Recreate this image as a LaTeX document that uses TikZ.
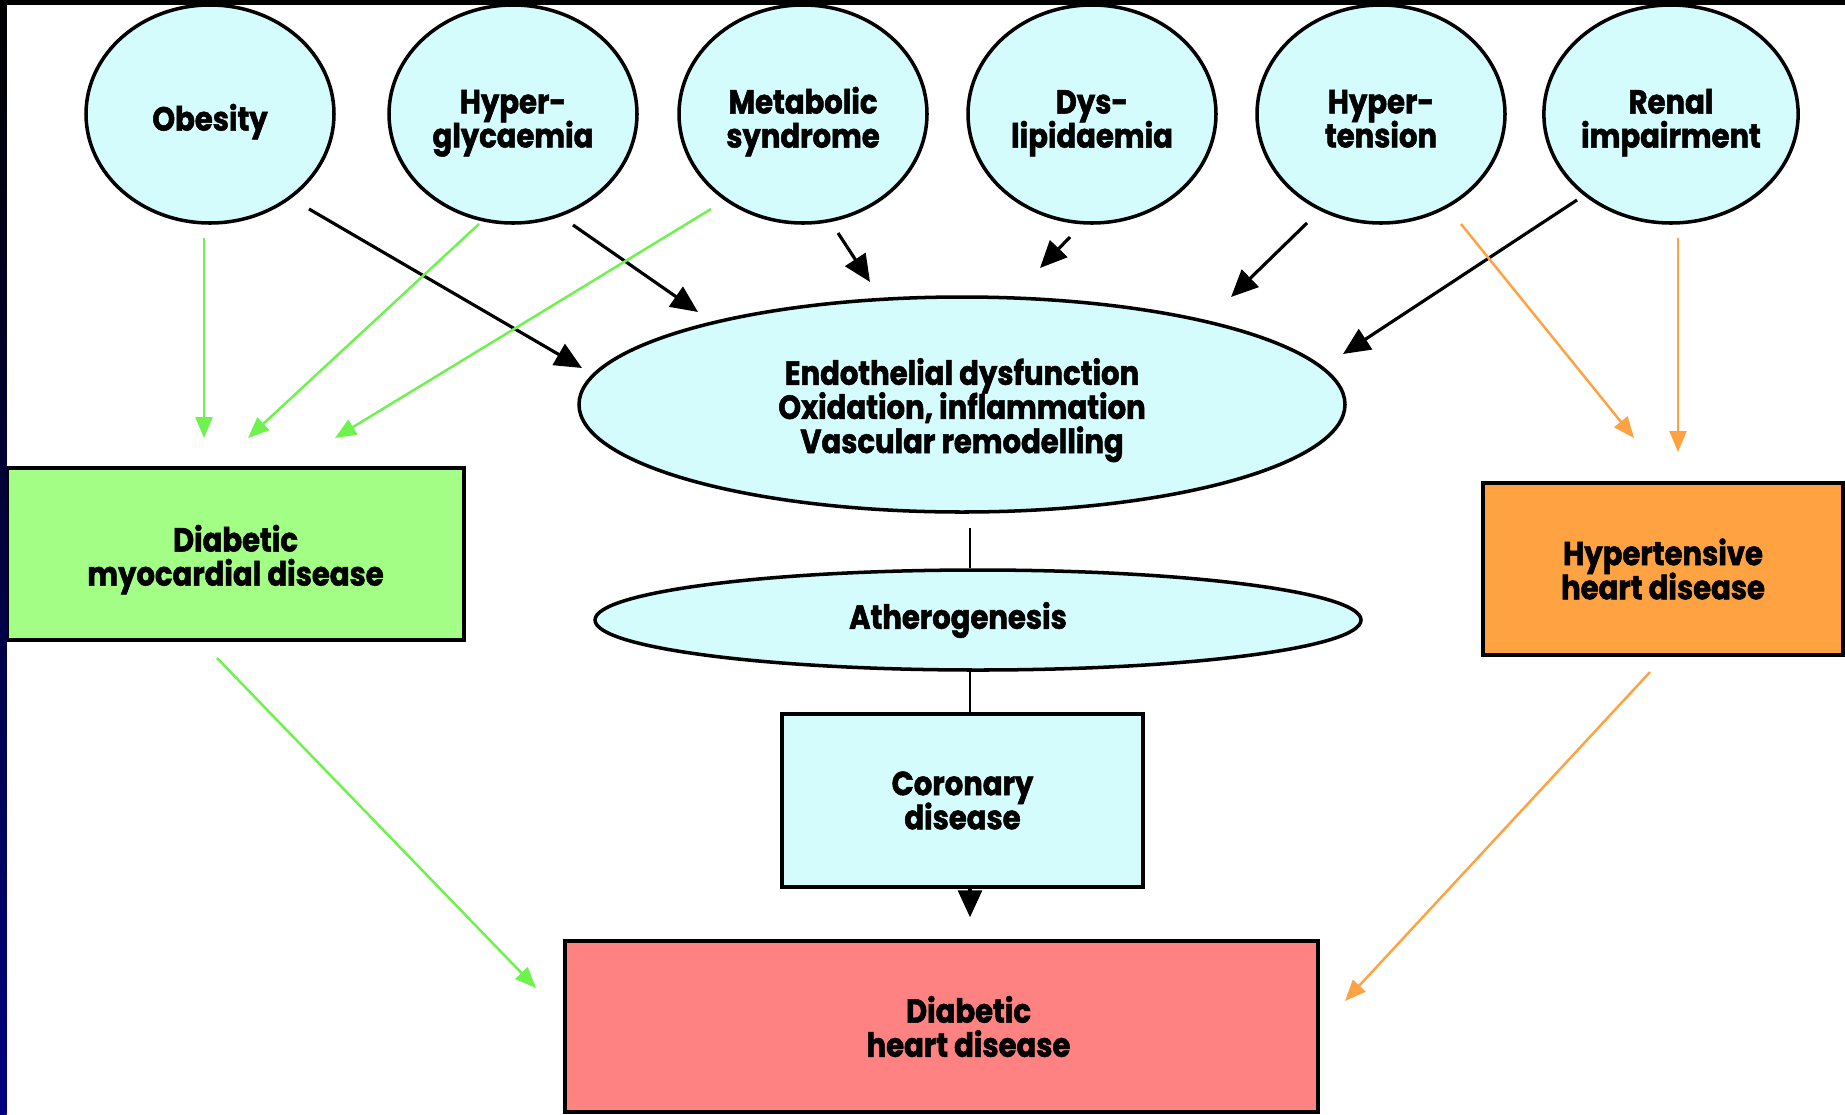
\documentclass[tikz,border=0pt]{standalone}
\usepackage{fontspec}
\setmainfont{Poppins}[FakeStretch=0.87, BoldFeatures={FakeBold=1.5}]
\usetikzlibrary{arrows.meta, shapes.geometric}
\definecolor{paleblue}{HTML}{D4FCFC}
\definecolor{myogreen}{HTML}{A2FE84}
\definecolor{arrowgreen}{HTML}{6EF24E}
\definecolor{hyporange}{HTML}{FFA242}
\definecolor{heartpink}{HTML}{FF8282}
\definecolor{stripnavy}{HTML}{000080}
\setlength{\lineskiplimit}{-5pt}

\begin{document}
\begin{tikzpicture}[font=\bfseries\fontsize{9.5}{9.7}\selectfont,
  risk/.style={ellipse, draw, line width=1pt, fill=paleblue, minimum width=2.48cm, minimum height=2.18cm, inner sep=0pt, align=center},
  oval/.style={ellipse, draw, line width=1pt, fill=paleblue, inner sep=0pt, align=center},
  box/.style={rectangle, draw, line width=1pt, inner sep=0pt, align=center},
  heavy/.style={line width=0.9pt, -{Triangle[length=0.27cm, width=0.24cm]}},
  greenline/.style={arrowgreen, line width=0.7pt, -{Triangle[length=0.21cm, width=0.17cm]}},
  orangeline/.style={hyporange, line width=0.7pt, -{Triangle[length=0.21cm, width=0.17cm]}},
  link/.style={line width=0.8pt}]
  \useasboundingbox (0,0) rectangle (18.45,-11.14);
  \fill[white] (0,0) rectangle (18.45,-11.14);

  % Row of risk factors
  \node[risk] (obesity)   at (2.10,-1.14)  {\rule{0pt}{0.42cm}Obesity};
  \node[risk] (hyperglyc) at (5.13,-1.14)  {\rule{0pt}{0.42cm}Hyper-\\glycaemia};
  \node[risk] (metabolic) at (8.03,-1.14)  {\rule{0pt}{0.42cm}Metabolic\\syndrome};
  \node[risk] (dyslip)    at (10.92,-1.14) {\rule{0pt}{0.42cm}Dys-\\lipidaemia};
  \node[risk] (hypertens) at (13.81,-1.14) {\rule{0pt}{0.42cm}Hyper-\\tension\vphantom{g}};
  \node[risk] (renal)     at (16.71,-1.14) {\rule{0pt}{0.42cm}Renal\\impairment};

  % Vascular pathway down the middle
  \node[oval, minimum width=7.66cm, minimum height=2.15cm] (endo) at (9.62,-4.045)
    {\rule{0pt}{0.38cm}Endothelial dysfunction\\Oxidation, inflammation\\Vascular remodelling};
  \node[oval, minimum width=7.66cm, minimum height=1.0cm] (athero) at (9.78,-6.20) {Atherogenesis\hspace*{0.4cm}};
  \node[box, fill=paleblue, minimum width=3.61cm, minimum height=1.73cm] (coronary) at (9.625,-8.005) {Coronary\\disease};

  % Outcome boxes
  \node[box, fill=myogreen, minimum width=4.57cm, minimum height=1.72cm] (myocard) at (2.355,-5.54) {\rule{0pt}{0.38cm}Diabetic\\myocardial disease};
  \node[box, fill=hyporange, minimum width=3.60cm, minimum height=1.72cm] (hypheart) at (16.63,-5.69) {Hypertensive\\heart disease};
  \node[box, fill=heartpink, minimum width=7.53cm, minimum height=1.71cm] (dhd) at (9.415,-10.265)
    {\hspace*{0.54cm}Diabetic\\\hspace*{0.54cm}heart disease};

  % Free ends of the arrows
  \coordinate (spine) at (9.70,0);
  \coordinate (ob-s) at (3.09,-2.09);   \coordinate (ob-e) at (5.82,-3.68);
  \coordinate (hg-s) at (5.73,-2.25);   \coordinate (hg-e) at (6.98,-3.12);
  \coordinate (ms-s) at (8.38,-2.33);   \coordinate (ms-e) at (8.70,-2.82);
  \coordinate (dl-s) at (10.70,-2.37);  \coordinate (dl-e) at (10.40,-2.68);
  \coordinate (ht-s) at (13.07,-2.23);  \coordinate (ht-e) at (12.31,-2.97);
  \coordinate (rn-s) at (15.77,-2.00);  \coordinate (rn-e) at (13.43,-3.54);

  \coordinate (ob-g) at (2.04,-2.38);   \coordinate (my-a) at (2.04,-4.38);
  \coordinate (hg-g) at (4.79,-2.24);   \coordinate (my-b) at (2.48,-4.38);
  \coordinate (ms-g) at (7.11,-2.09);   \coordinate (my-c) at (3.35,-4.38);
  \coordinate (ht-o) at (14.61,-2.24);  \coordinate (hh-a) at (16.34,-4.38);
  \coordinate (rn-o) at (16.78,-2.38);  \coordinate (hh-b) at (16.78,-4.52);
  \coordinate (my-out) at (2.17,-6.58); \coordinate (dh-a) at (5.36,-9.88);
  \coordinate (hh-out) at (16.50,-6.72); \coordinate (dh-b) at (13.45,-10.01);

  % Black arrows into the vascular pathway
  \draw[heavy] (ob-s) -- (ob-e);
  \draw[heavy] (hg-s) -- (hg-e);
  \draw[heavy] (ms-s) -- (ms-e);
  \draw[heavy] (dl-s) -- (dl-e);
  \draw[heavy] (ht-s) -- (ht-e);
  \draw[heavy] (rn-s) -- (rn-e);

  \draw[link, shorten <=0.14cm] (endo.south -| spine) -- (athero.north -| spine);
  \draw[link] (athero.south -| spine) -- (coronary.north -| spine);
  \draw[heavy, shorten >=0.22cm] (coronary.south -| spine) -- (dhd.north -| spine);

  % Green: myocardial route
  \draw[greenline] (ob-g) -- (my-a);
  \draw[greenline] (hg-g) -- (my-b);
  \draw[greenline] (ms-g) -- (my-c);
  \draw[greenline] (my-out) -- (dh-a);

  % Orange: hypertensive route
  \draw[orangeline] (ht-o) -- (hh-a);
  \draw[orangeline] (rn-o) -- (hh-b);
  \draw[orangeline] (hh-out) -- (dh-b);

  % slide frame
  \fill[black] (0,0) rectangle (18.45,-0.05);
  \shade[top color=black, bottom color=stripnavy] (0,0) rectangle (0.065,-11.14);
\end{tikzpicture}
\end{document}
